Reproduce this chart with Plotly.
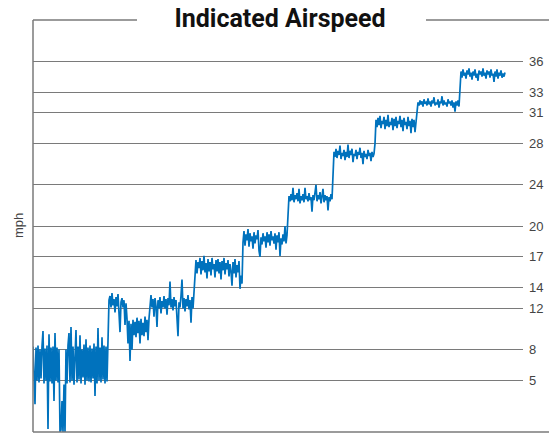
import plotly.graph_objects as go

# Indicated airspeed samples (mph), one list per speed step of the run
step_low = [
    8.3, 4.6, 2.7, 8.2, 5.0, 8.4, 4.8, 8.0, 5.2, 8.3, 9.8, 4.7, 8.1, 5.0, 8.4, 0.3,
    9.5, 4.9, 8.2, 4.7, 8.3, 3.0, 9.6, 5.0, 8.2, 4.8, 8.0, 0.0, 0.2, 3.0, 0.0, 4.6,
    0.0, 8.0, 4.7, 8.4, 9.6, 4.8, 10.2, 5.0, 8.3, 4.6, 8.1, 9.9, 4.8, 8.3, 5.1, 9.4,
    4.7, 8.0, 5.3, 8.5, 4.6, 9.0, 5.0, 8.2, 4.9, 8.4, 4.8, 8.1, 5.2, 8.6, 3.5, 8.3,
    4.7, 10.1, 5.0, 8.2, 4.8, 9.2, 5.1, 8.4, 4.7, 8.3, 4.9,
]
step_12a = [
    10.5, 12.8, 13.2, 12.1, 13.5, 12.3, 12.9, 11.6, 13.1, 12.2, 13.4, 12.0, 9.7,
    12.6, 13.0, 12.1, 12.8, 10.4, 12.5,
]
step_10 = [
    11.0, 8.6, 10.8, 6.9, 10.5, 8.0, 10.9, 9.4, 10.7, 9.2, 11.1, 9.6, 10.8, 8.6,
    11.0, 9.4, 10.6, 9.3, 11.2, 9.7, 10.9, 8.9, 11.0,
]
step_12b = [
    12.6, 13.3, 12.1, 12.9, 11.2, 13.0, 12.2, 10.2, 12.8, 12.0, 13.1, 11.5, 12.7,
    12.1, 13.2, 12.0, 12.9, 11.4, 13.0, 12.3, 14.6, 12.1, 12.9, 11.8, 13.1, 12.2,
    12.8, 11.0, 9.3, 12.6, 12.1, 13.2, 14.8, 12.0, 13.0, 11.7, 12.9, 12.2, 13.3,
    11.9, 12.8, 10.6, 13.1, 12.0, 14.0,
]
step_16 = [
    15.8, 16.7, 15.4, 16.5, 15.9, 16.9, 15.3, 16.6, 15.7, 17.1, 15.5, 16.4, 14.9,
    16.8, 15.6, 16.5, 15.2, 16.9, 15.8, 16.3, 15.0, 16.7, 15.6, 16.8, 15.4, 16.5,
    14.8, 16.6, 15.7, 16.9, 15.3, 16.4, 15.8, 16.7, 15.1, 16.3, 15.6, 14.2, 16.5,
    15.4, 16.8, 15.0, 16.2, 15.5, 16.6, 13.9, 15.2, 14.4,
]
step_19 = [
    18.4, 19.5, 18.1, 19.2, 18.6, 19.7, 18.0, 19.3, 18.5, 19.0, 17.8, 19.4, 18.3,
    19.1, 18.7, 19.6, 17.6, 17.0, 18.9, 18.2, 19.3, 18.5, 19.0, 17.9, 19.4, 18.4,
    19.2, 18.1, 19.5, 18.6, 19.0, 18.3, 19.3, 17.7, 19.1, 18.4, 19.4, 17.1, 18.8,
    18.2, 19.2, 18.5, 20.0, 18.3, 19.1,
]
step_23 = [
    21.0, 22.9, 22.4, 23.1, 22.5, 23.7, 22.3, 23.0, 22.6, 23.2, 22.4, 23.6, 22.2,
    22.9, 22.5, 23.1, 22.3, 23.7, 22.6, 22.9, 22.4, 23.2, 22.5, 22.8, 21.4, 23.0,
    22.5, 23.1, 24.0, 22.4, 23.0, 22.6, 23.3, 22.2, 22.9, 23.6, 22.3, 23.0, 22.5,
    22.9, 21.5, 22.8, 22.4, 23.1, 22.6,
]
step_27 = [
    25.0, 27.2, 26.7, 27.5, 26.6, 27.3, 26.9, 27.8, 26.5, 27.1, 26.8, 27.4, 26.4,
    27.2, 26.7, 27.9, 26.6, 27.3, 26.9, 27.5, 26.2, 27.0, 26.8, 27.4, 26.5, 27.2,
    26.9, 27.6, 26.6, 27.1, 26.0, 27.3, 26.7, 27.0, 26.5, 27.4, 26.8, 27.1, 26.3,
    27.2, 26.7, 27.0,
]
step_30 = [
    28.0, 30.3, 29.6, 30.5, 29.8, 30.7, 29.5, 30.2, 29.9, 30.6, 29.4, 30.3, 29.7,
    30.8, 29.6, 30.1, 29.8, 30.5, 29.3, 30.4, 29.7, 30.6, 29.5, 30.2, 29.9, 30.7,
    29.6, 30.3, 29.2, 30.5, 29.8, 30.1, 29.4, 30.6, 29.7, 30.2, 29.0, 30.4, 29.6,
    30.3, 29.1, 30.0,
]
step_32 = [
    31.0, 32.0, 31.7, 32.2, 31.8, 32.1, 31.6, 32.3, 31.9, 32.0, 31.7, 32.4, 31.8,
    32.1, 31.6, 32.2, 31.9, 32.5, 31.7, 32.0, 31.8, 32.3, 31.5, 32.1, 31.9, 32.6,
    31.7, 32.2, 31.8, 32.0, 31.6, 32.3, 31.9, 32.1, 31.7, 32.2, 31.5, 32.0, 31.1,
    32.1, 31.7, 32.2, 31.6,
]
step_35 = [
    33.0, 35.0, 34.4, 35.2, 34.6, 34.9, 34.3, 35.1, 34.7, 35.3, 34.5, 34.9, 34.2,
    35.0, 34.6, 35.2, 34.4, 34.8, 34.1, 35.1, 34.7, 35.0, 34.5, 35.3, 34.6, 34.9,
    34.3, 35.1, 34.7, 35.0, 34.4, 35.2, 34.6, 34.8, 34.0, 35.0, 34.5, 35.2, 34.3,
    34.9, 34.6, 35.1, 34.4, 34.8, 34.5, 34.9,
]

tick_values = [5, 8, 12, 14, 17, 20, 24, 28, 31, 33, 36]
tick_labels = [str(v) for v in tick_values]

airspeed = (step_low + step_12a + step_10 + step_12b + step_16 + step_19
            + step_23 + step_27 + step_30 + step_32 + step_35)
sample = list(range(len(airspeed)))

frame_color = "#7a7a7a"
label_color = "#444444"

fig = go.Figure(
    go.Scatter(
        x=sample,
        y=airspeed,
        mode="lines",
        line=dict(color="#0072BD", width=1.7),
        hoverinfo="skip",
        showlegend=False,
    )
)

# plot spans 33..523 px horizontally; the frame line runs on to the page edge
right_edge = 1 + 26 / 490

frame = [
    dict(x0=0, x1=0, y0=0, y1=1),
    dict(x0=0, x1=right_edge, y0=0, y1=0),
    dict(x0=0, x1=104 / 490, y0=1, y1=1),
    dict(x0=393 / 490, x1=right_edge, y0=1, y1=1),
]
for seg in frame:
    fig.add_shape(type="line", xref="paper", yref="paper",
                  line=dict(color=frame_color, width=1.5), **seg)

fig.add_annotation(
    text="mph", xref="paper", yref="paper", x=-15 / 490, y=0.5,
    textangle=-90, showarrow=False, xanchor="center", yanchor="middle",
    font=dict(family="Liberation Sans, Arial, sans-serif", size=13, color=label_color),
)

fig.update_layout(
    width=549,
    height=434,
    margin=dict(l=33, r=26, t=20, b=2),
    paper_bgcolor="white",
    plot_bgcolor="white",
    title=dict(
        text="<b>Indicated Airspeed</b>",
        x=280 / 549, xref="container", xanchor="center",
        y=1 - 18 / 434, yref="container", yanchor="middle",
        font=dict(family="Roboto, sans-serif", size=25, color="#111111"),
    ),
    xaxis=dict(
        range=[0, 490], visible=False, showgrid=False, zeroline=False,
    ),
    yaxis=dict(
        range=[0, 40], side="right",
        tickvals=tick_values, ticktext=tick_labels,
        ticks="", ticklabelstandoff=5,
        showgrid=True, gridcolor=frame_color, gridwidth=1,
        zeroline=False, showline=False,
        tickfont=dict(family="Liberation Sans, Arial, sans-serif", size=13, color=label_color),
    ),
)

fig.write_html("out.html")
